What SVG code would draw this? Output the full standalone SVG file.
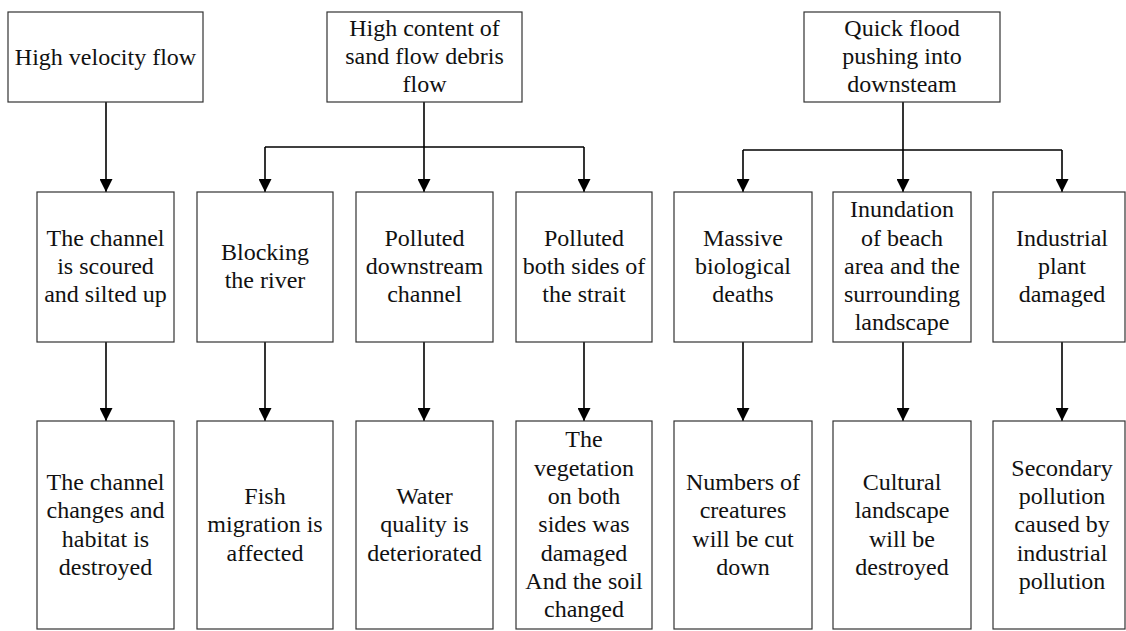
<svg xmlns="http://www.w3.org/2000/svg" width="1126" height="631" viewBox="0 0 1126 631">
<style>
rect.box{fill:#fff;stroke:#333;stroke-width:1.2}
text{font-size:24px;fill:#111;text-anchor:middle}
.c{fill:none;stroke:#000;stroke-width:1.6}
</style>
<defs>
<marker id="ah" markerUnits="userSpaceOnUse" viewBox="0 0 13 13" markerWidth="13" markerHeight="13" refX="13" refY="6.5" orient="auto">
<path d="M0,0 L13,6.5 L0,13 z" fill="#000"/>
</marker>
</defs>
<rect width="1126" height="631" fill="#fff"/>
<g id="connectors">
<path class="c" d="M106,102 V192" marker-end="url(#ah)"/>
<path class="c" d="M424,102 V192" marker-end="url(#ah)"/>
<path class="c" d="M265,147 H584"/>
<path class="c" d="M265,147 V192" marker-end="url(#ah)"/>
<path class="c" d="M584,147 V192" marker-end="url(#ah)"/>
<path class="c" d="M903,102 V192" marker-end="url(#ah)"/>
<path class="c" d="M743,150 H1062"/>
<path class="c" d="M743,150 V192" marker-end="url(#ah)"/>
<path class="c" d="M1062,150 V192" marker-end="url(#ah)"/>
<path class="c" d="M106,342 V421" marker-end="url(#ah)"/>
<path class="c" d="M265,342 V421" marker-end="url(#ah)"/>
<path class="c" d="M424,342 V421" marker-end="url(#ah)"/>
<path class="c" d="M584,342 V421" marker-end="url(#ah)"/>
<path class="c" d="M743,342 V421" marker-end="url(#ah)"/>
<path class="c" d="M903,342 V421" marker-end="url(#ah)"/>
<path class="c" d="M1062,342 V421" marker-end="url(#ah)"/>
</g>
<g font-family="'Liberation Serif', 'DejaVu Serif', 'Times New Roman', serif">
<g id="top1"><rect class="box" x="8" y="12" width="195" height="90"/><text><tspan x="105.5" y="65">High velocity flow</tspan></text></g>
<g id="top2"><rect class="box" x="327" y="12" width="195" height="90"/><text><tspan x="424.5" y="35.5">High content of</tspan><tspan x="424.5" y="63.8">sand flow debris</tspan><tspan x="424.5" y="92">flow</tspan></text></g>
<g id="top3"><rect class="box" x="804" y="12" width="196" height="90"/><text><tspan x="902" y="35.5">Quick flood</tspan><tspan x="902" y="63.8">pushing into</tspan><tspan x="902" y="92">downsteam</tspan></text></g>

<g id="midA"><rect class="box" x="37" y="192" width="137" height="150"/><text><tspan x="105.5" y="245.5">The channel</tspan><tspan x="105.5" y="273.8">is scoured</tspan><tspan x="105.5" y="302">and silted up</tspan></text></g>
<g id="midB"><rect class="box" x="197" y="192" width="136" height="150"/><text><tspan x="265" y="260">Blocking</tspan><tspan x="265" y="288.3">the river</tspan></text></g>
<g id="midC"><rect class="box" x="356" y="192" width="137" height="150"/><text><tspan x="424.5" y="245.5">Polluted</tspan><tspan x="424.5" y="273.8">downstream</tspan><tspan x="424.5" y="302">channel</tspan></text></g>
<g id="midD"><rect class="box" x="516" y="192" width="136" height="150"/><text><tspan x="584" y="245.5">Polluted</tspan><tspan x="584" y="273.8">both sides of</tspan><tspan x="584" y="302">the strait</tspan></text></g>
<g id="midE"><rect class="box" x="674" y="192" width="138" height="150"/><text><tspan x="743" y="245.5">Massive</tspan><tspan x="743" y="273.8">biological</tspan><tspan x="743" y="302">deaths</tspan></text></g>
<g id="midF"><rect class="box" x="833" y="192" width="138" height="150"/><text><tspan x="902" y="217.2">Inundation</tspan><tspan x="902" y="245.5">of beach</tspan><tspan x="902" y="273.8">area and the</tspan><tspan x="902" y="302">surrounding</tspan><tspan x="902" y="330.3">landscape</tspan></text></g>
<g id="midG"><rect class="box" x="993" y="192" width="132" height="150"/><text><tspan x="1062" y="245.5">Industrial</tspan><tspan x="1062" y="273.8">plant</tspan><tspan x="1062" y="302">damaged</tspan></text></g>

<g id="botA"><rect class="box" x="37" y="421" width="137" height="208"/><text><tspan x="105.5" y="490">The channel</tspan><tspan x="105.5" y="518.3">changes and</tspan><tspan x="105.5" y="546.6">habitat is</tspan><tspan x="105.5" y="574.9">destroyed</tspan></text></g>
<g id="botB"><rect class="box" x="197" y="421" width="136" height="208"/><text><tspan x="265" y="504">Fish</tspan><tspan x="265" y="532.3">migration is</tspan><tspan x="265" y="560.6">affected</tspan></text></g>
<g id="botC"><rect class="box" x="356" y="421" width="137" height="208"/><text><tspan x="424.5" y="504">Water</tspan><tspan x="424.5" y="532.3">quality is</tspan><tspan x="424.5" y="560.6">deteriorated</tspan></text></g>
<g id="botD"><rect class="box" x="516" y="421" width="136" height="208"/><text><tspan x="584" y="447.4">The</tspan><tspan x="584" y="475.7">vegetation</tspan><tspan x="584" y="504">on both</tspan><tspan x="584" y="532.3">sides was</tspan><tspan x="584" y="560.6">damaged</tspan><tspan x="584" y="588.9">And the soil</tspan><tspan x="584" y="617.2">changed</tspan></text></g>
<g id="botE"><rect class="box" x="674" y="421" width="138" height="208"/><text><tspan x="743" y="490">Numbers of</tspan><tspan x="743" y="518.3">creatures</tspan><tspan x="743" y="546.6">will be cut</tspan><tspan x="743" y="574.9">down</tspan></text></g>
<g id="botF"><rect class="box" x="833" y="421" width="138" height="208"/><text><tspan x="902" y="490">Cultural</tspan><tspan x="902" y="518.3">landscape</tspan><tspan x="902" y="546.6">will be</tspan><tspan x="902" y="574.9">destroyed</tspan></text></g>
<g id="botG"><rect class="box" x="993" y="421" width="132" height="208"/><text><tspan x="1062" y="475.7">Secondary</tspan><tspan x="1062" y="504">pollution</tspan><tspan x="1062" y="532.3">caused by</tspan><tspan x="1062" y="560.6">industrial</tspan><tspan x="1062" y="588.9">pollution</tspan></text></g>
</g>
</svg>
